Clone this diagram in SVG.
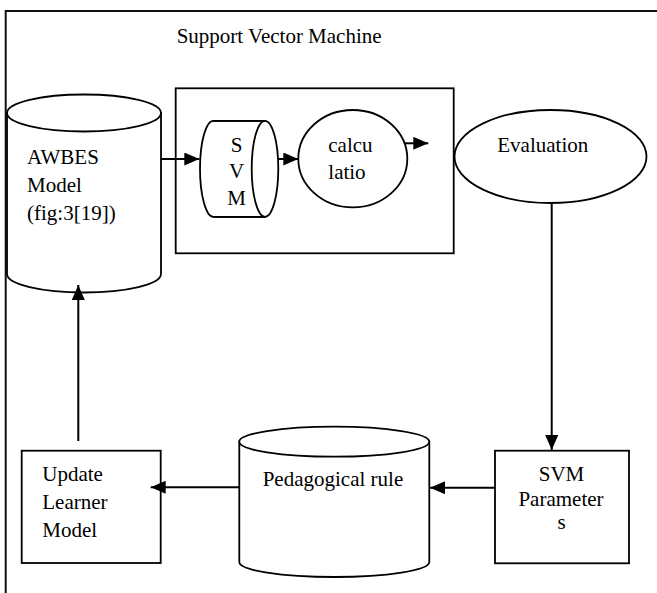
<svg xmlns="http://www.w3.org/2000/svg" width="657" height="593" viewBox="0 0 657 593">
<defs>
<style>
.s{fill:#fff;stroke:#000;stroke-width:1.8}
.c{fill:none;stroke:#000;stroke-width:2}
text{font-family:"Liberation Serif","Times New Roman",serif;font-size:21px;fill:#000}
.m{text-anchor:middle}
</style>
<marker id="ah" markerUnits="userSpaceOnUse" markerWidth="16" markerHeight="14" refX="15" refY="6.5" orient="auto">
<path d="M0,0 L15,6.5 L0,13 Z" fill="#000"/>
</marker>
</defs>
<rect width="657" height="593" fill="#fff"/>
<g id="frame">
<rect x="5.7" y="11" width="700" height="700" fill="none" stroke="#111" stroke-width="2"/>
<text x="176.7" y="42.5">Support Vector Machine</text>
</g>
<g id="svm-box">
<rect x="175.7" y="88.3" width="278" height="165" class="s"/>
</g>
<g id="awbes">
<path class="s" d="M7,113 L7,274 A77,18.5 0 0 0 161,274 L161,113 Z"/>
<ellipse class="s" cx="84" cy="113" rx="77" ry="18.5"/>
<text x="27" y="163.5">AWBES</text>
<text x="27" y="191.7">Model</text>
<text x="27" y="220">(fig:3[19])</text>
</g>
<g id="svm">
<path class="s" d="M213.3,120.8 L265,120.8 L265,216.8 L213.3,216.8 A13.3,48 0 0 1 213.3,120.8 Z"/>
<ellipse class="s" cx="265" cy="168.8" rx="13.3" ry="48"/>
<line x1="213.3" y1="120.8" x2="265" y2="120.8" stroke="#000" stroke-width="1.8"/>
<line x1="213.3" y1="216.8" x2="265" y2="216.8" stroke="#000" stroke-width="1.8"/>
<text class="m" x="236.7" y="151.7">S</text>
<text class="m" x="236.7" y="178.3">V</text>
<text class="m" x="236.7" y="205">M</text>
</g>
<g id="calc">
<ellipse class="s" cx="352.8" cy="158.7" rx="54.5" ry="48.7"/>
<text x="328.3" y="151.7">calcu</text>
<text x="328.3" y="179">latio</text>
</g>
<g id="evaluation">
<ellipse class="s" cx="550.5" cy="156.5" rx="96" ry="46.5"/>
<text x="497.3" y="151.7">Evaluation</text>
</g>
<g id="params">
<rect class="s" x="495" y="450.7" width="134" height="112.6"/>
<text class="m" x="561.5" y="480.7">SVM</text>
<text class="m" x="561" y="506">Parameter</text>
<text class="m" x="561.5" y="529">s</text>
</g>
<g id="pedagogical">
<path class="s" d="M239.3,441.7 L239.3,562 A95,15 0 0 0 429.3,562 L429.3,441.7 Z"/>
<ellipse class="s" cx="334.3" cy="441.7" rx="95" ry="15"/>
<text x="262.7" y="486">Pedagogical rule</text>
</g>
<g id="update">
<rect class="s" x="21.7" y="450.7" width="139" height="112.3"/>
<text x="42.3" y="480.7">Update</text>
<text x="42.3" y="509">Learner</text>
<text x="42.3" y="537">Model</text>
</g>
<g id="connectors">
<path class="c" d="M161,159 L199.3,159" marker-end="url(#ah)"/>
<path class="c" d="M278.3,159 L298.3,159" marker-end="url(#ah)"/>
<path class="c" d="M405,143.3 L428.3,143.3" marker-end="url(#ah)"/>
<path class="c" d="M551.7,203 L551.7,450" marker-end="url(#ah)"/>
<path class="c" d="M495,487.7 L430,487.7" marker-end="url(#ah)"/>
<path class="c" d="M239.3,487.3 L150.7,487.3" marker-end="url(#ah)"/>
<path class="c" d="M78.3,441 L78.3,285" marker-end="url(#ah)"/>
</g>
</svg>
